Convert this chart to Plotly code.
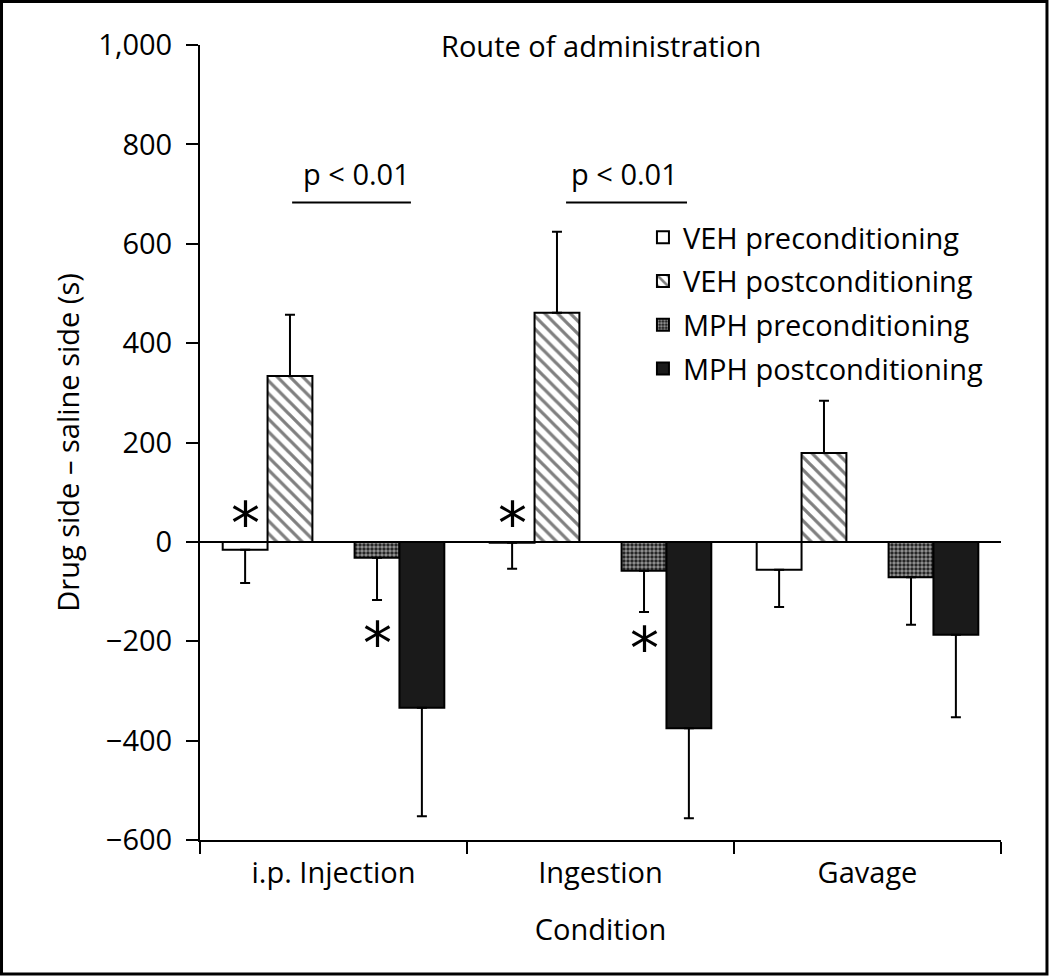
import plotly.graph_objects as go

# ---- data ----
conditions = ["i.p. Injection", "Ingestion", "Gavage"]
series_names = ["VEH preconditioning", "VEH postconditioning",
                "MPH preconditioning", "MPH postconditioning"]
veh_pre = [-16, -2, -56]
veh_pre_err = [67, 52, 75]
veh_post = [334, 461, 179]
veh_post_err = [123, 163, 105]
mph_pre = [-32, -58, -71]
mph_pre_err = [85, 83, 96]
mph_post = [-334, -375, -187]
mph_post_err = [218, 181, 166]

y_ticks = [-600, -400, -200, 0, 200, 400, 600, 800, 1000]

FONT = "Open Sans"
FS = 29

x_pos = list(range(len(conditions)))
W = 0.168
offsets = [-0.415, -0.247, 0.079, 0.247]

styles = [
    dict(color="white", pattern=None),
    dict(color="white", pattern=dict(shape="\\", fgcolor="black", bgcolor="white", size=9, solidity=0.36)),
    dict(color="#1a1a1a", pattern=dict(shape=".", fgcolor="white", bgcolor="#1a1a1a", size=4, solidity=0.6)),
    dict(color="#1a1a1a", pattern=None),
]

series = [(veh_pre, veh_pre_err), (veh_post, veh_post_err),
          (mph_pre, mph_pre_err), (mph_post, mph_post_err)]

fig = go.Figure()
for i, ((vals, errs), name) in enumerate(zip(series, series_names)):
    plus = [e if v >= 0 else 0 for v, e in zip(vals, errs)]
    minus = [e if v < 0 else 0 for v, e in zip(vals, errs)]
    marker = dict(color=styles[i]["color"], line=dict(color="black", width=2))
    if styles[i]["pattern"] is not None:
        marker["pattern"] = styles[i]["pattern"]
    fig.add_trace(go.Bar(
        x=x_pos, y=vals, name=name, width=W, offset=offsets[i],
        marker=marker, legendgroup=name,
        error_y=dict(type="data", symmetric=False, array=plus, arrayminus=minus,
                     color="black", thickness=2, width=5),
    ))

# asterisks over VEH pre and MPH pre bars of first two conditions
star_pts = [(0 + offsets[0] + W / 2, 58), (1 + offsets[0] + W / 2, 58),
            (0 + offsets[2] + W / 2, -183), (1 + offsets[2] + W / 2, -193)]
for sx, sy in star_pts:
    fig.add_annotation(x=sx, y=sy, text="*", showarrow=False,
                       font=dict(family="DejaVu Sans", size=58, color="black"),
                       xanchor="center", yanchor="middle", yshift=-11)

# significance brackets
for x0, x1, xt in [(-0.155, 0.290, 0.086), (0.871, 1.324, 1.090)]:
    fig.add_shape(type="line", x0=x0, x1=x1, y0=683, y1=683,
                  line=dict(color="black", width=2))
    fig.add_annotation(x=xt, y=741, text="p < 0.01", showarrow=False,
                       font=dict(family=FONT, size=FS, color="black"),
                       xanchor="center", yanchor="middle")

fig.add_annotation(x=0.5, y=1.0, xref="paper", yref="paper",
                   text="Route of administration", showarrow=False,
                   font=dict(family=FONT, size=FS, color="black"),
                   xanchor="center", yanchor="middle")

# outer frame
fig.add_shape(type="rect", xref="paper", yref="paper",
              x0=-0.2478, x1=1.0574, y0=-0.1686, y1=1.0547,
              line=dict(color="black", width=3), fillcolor="rgba(0,0,0,0)")

fig.update_layout(
    width=1050, height=977,
    margin=dict(l=200, r=49, t=45, b=137),
    paper_bgcolor="white", plot_bgcolor="white",
    font=dict(family=FONT, size=FS, color="black"),
    barmode="overlay",
    showlegend=True,
    legend=dict(x=0.553, y=0.79, xanchor="left", yanchor="top",
                font=dict(family=FONT, size=FS), tracegroupgap=3,
                bgcolor="rgba(0,0,0,0)"),
    separators=".,",
)
fig.update_xaxes(
    range=[-0.5, 2.5], tickvals=x_pos, ticktext=conditions,
    showline=True, linecolor="black", linewidth=2, mirror=False,
    ticks="outside", ticklen=0, ticklabelstandoff=6,
    minor=dict(tickvals=[-0.5, 0.5, 1.5, 2.5], ticks="outside", ticklen=12,
               tickwidth=2, tickcolor="black"),
    showgrid=False, zeroline=False,
    title=dict(text="Condition", standoff=30, font=dict(family=FONT, size=FS)),
)
fig.update_yaxes(
    range=[-600, 1000], tickvals=y_ticks, tickformat=",d",
    showline=True, linecolor="black", linewidth=2,
    ticks="outside", ticklen=12, tickwidth=2, tickcolor="black",
    ticklabelstandoff=8,
    showgrid=False, zeroline=True, zerolinecolor="black", zerolinewidth=2,
    title=dict(text="Drug side – saline side (s)", standoff=10,
               font=dict(family=FONT, size=FS)),
)

fig.write_html("out.html", config={"displayModeBar": False},
               post_script="document.body.style.margin='0';document.body.style.overflow='hidden';")
